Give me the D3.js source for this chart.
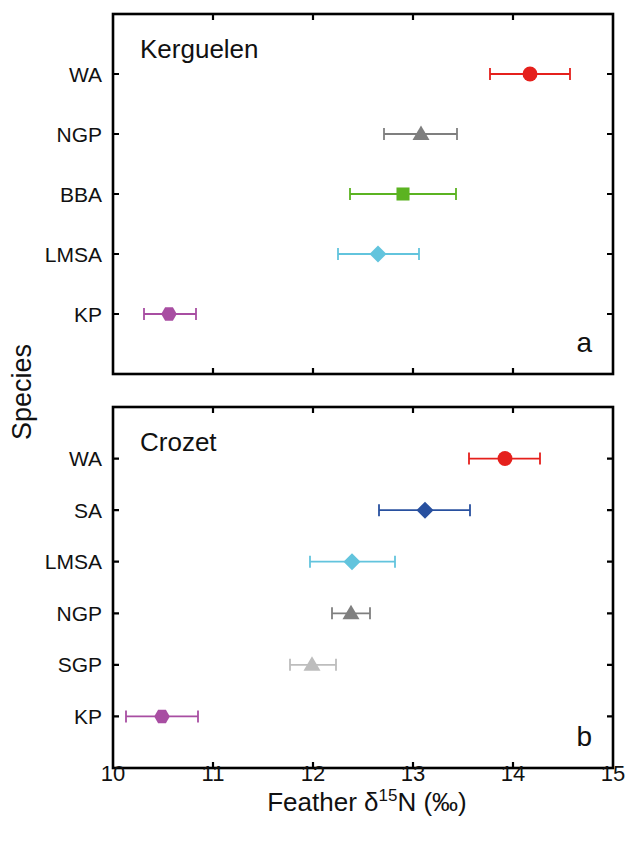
<!DOCTYPE html>
<html>
<head>
<meta charset="utf-8">
<script src="https://cdn.jsdelivr.net/npm/d3@7"></script>
<style>
  body { margin: 0; background: #fff; }
  text { font-family: "Liberation Sans", Arial, sans-serif; fill: #111; }
</style>
</head>
<body>
<svg id="chart" width="632" height="841"></svg>
<script>
// panel a: Kerguelen
var kerSpecies = ["WA", "NGP", "BBA", "LMSA", "KP"];
var kerMean = [14.17, 13.08, 12.90, 12.65, 10.56];
var kerLow  = [13.77, 12.71, 12.37, 12.25, 10.31];
var kerHigh = [14.57, 13.44, 13.43, 13.06, 10.83];

// panel b: Crozet
var croSpecies = ["WA", "SA", "LMSA", "NGP", "SGP", "KP"];
var croMean = [13.92, 13.12, 12.39, 12.38, 11.99, 10.49];
var croLow  = [13.56, 12.66, 11.97, 12.19, 11.77, 10.13];
var croHigh = [14.27, 13.57, 12.82, 12.57, 12.23, 10.85];

var xTicks = [10, 11, 12, 13, 14, 15];

var styles = {
  WA:   { color: "#e5201c", shape: "circle" },
  NGP:  { color: "#7f7f7f", shape: "triangle" },
  BBA:  { color: "#5bb321", shape: "square" },
  LMSA: { color: "#62c4dd", shape: "diamond" },
  KP:   { color: "#a84ea2", shape: "hexagon" },
  SA:   { color: "#28509f", shape: "diamond" },
  SGP:  { color: "#bdbdbd", shape: "triangle" }
};

var svg = d3.select("#chart");
var left = 113, right = 613;

var x = d3.scaleLinear().domain([10, 15]).range([left, right]);

function markerPath(shape) {
  if (shape === "circle") return d3.symbol(d3.symbolCircle, 175)();
  if (shape === "square") return d3.symbol(d3.symbolSquare, 170)();
  if (shape === "triangle") return "M0,-8.5L8.5,6H-8.5Z";
  if (shape === "diamond") return "M0,-8.5L8.5,0L0,8.5L-8.5,0Z";
  // hexagon
  var pts = d3.range(6).map(function(i) {
    var a = Math.PI / 3 * i;
    return [7.8 * Math.cos(a), 7.8 * Math.sin(a)];
  });
  return "M" + pts.join("L") + "Z";
}

function drawPanel(top, bottom, species, mean, low, high, title, letter) {
  var n = species.length;
  var y = d3.scaleLinear().domain([n + 1, 0]).range([top, bottom]);
  var g = svg.append("g");

  // frame
  g.append("rect")
    .attr("x", left).attr("y", top)
    .attr("width", right - left).attr("height", bottom - top)
    .attr("fill", "none").attr("stroke", "#000").attr("stroke-width", 2.6);

  // inward x ticks top & bottom
  var inner = xTicks.slice(1, -1);
  g.selectAll(".xt").data(inner).enter().append("path")
    .attr("d", d => "M" + x(d) + "," + top + "v6M" + x(d) + "," + bottom + "v-6")
    .attr("stroke", "#000").attr("stroke-width", 2.2);

  // y ticks and labels
  species.forEach(function(s, i) {
    var yy = y(n - i);
    g.append("path")
      .attr("d", "M" + left + "," + yy + "h6M" + right + "," + yy + "h-6")
      .attr("stroke", "#000").attr("stroke-width", 2.2);
    g.append("text")
      .attr("x", 102).attr("y", yy).attr("dy", "0.36em")
      .attr("text-anchor", "end").attr("font-size", 21)
      .text(s);

    var st = styles[s];
    g.append("line")
      .attr("x1", x(low[i])).attr("x2", x(high[i]))
      .attr("y1", yy).attr("y2", yy)
      .attr("stroke", st.color).attr("stroke-width", 1.8);
    [low[i], high[i]].forEach(function(v) {
      g.append("line")
        .attr("x1", x(v)).attr("x2", x(v))
        .attr("y1", yy - 6).attr("y2", yy + 6)
        .attr("stroke", st.color).attr("stroke-width", 1.8);
    });
    g.append("path")
      .attr("d", markerPath(st.shape))
      .attr("transform", "translate(" + x(mean[i]) + "," + yy + ")")
      .attr("fill", st.color);
  });

  g.append("text").attr("x", 140).attr("y", top + 44)
    .attr("font-size", 26).text(title);
  g.append("text").attr("x", 592).attr("y", bottom - 22)
    .attr("text-anchor", "end").attr("font-size", 28).text(letter);
}

drawPanel(14, 374, kerSpecies, kerMean, kerLow, kerHigh, "Kerguelen", "a");
drawPanel(407, 768, croSpecies, croMean, croLow, croHigh, "Crozet", "b");

// x tick labels
svg.selectAll(".xl").data(xTicks).enter().append("text")
  .attr("x", d => x(d)).attr("y", 781)
  .attr("text-anchor", "middle").attr("font-size", 22)
  .text(d => d);

// axis titles
var xt = svg.append("text").attr("x", 367).attr("y", 811)
  .attr("text-anchor", "middle").attr("font-size", 26);
xt.append("tspan").text("Feather δ");
xt.append("tspan").attr("font-size", 17).attr("dy", -10).text("15");
xt.append("tspan").attr("dy", 10).text("N (‰)");

svg.append("text")
  .attr("transform", "translate(31,392) rotate(-90)")
  .attr("text-anchor", "middle").attr("font-size", 27)
  .text("Species");
</script>
</body>
</html>
